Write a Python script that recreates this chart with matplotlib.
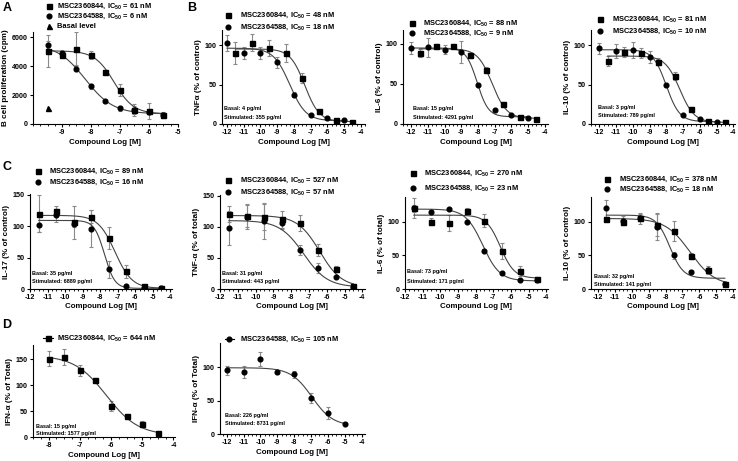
import numpy as np
import matplotlib
matplotlib.use("Agg")
import matplotlib.pyplot as plt
from matplotlib.lines import Line2D
from matplotlib.ticker import FixedLocator, MultipleLocator

plt.rcParams["font.family"] = ["Liberation Sans", "DejaVu Sans"]
plt.rcParams["font.weight"] = "bold"
plt.rcParams["axes.labelweight"] = "bold"
plt.rcParams["mathtext.fontset"] = "custom"
plt.rcParams["mathtext.rm"] = "Liberation Sans:bold"
plt.rcParams["mathtext.bf"] = "Liberation Sans:bold"
plt.rcParams["mathtext.it"] = "Liberation Sans:bold:italic"

# ---------------- data ----------------
# Panel A: B cell proliferation (cpm)
a_x = [-9.5, -9.0, -8.5, -8.0, -7.5, -7.0, -6.5, -6.0, -5.5]
a_sq = [5050, 4750, 5200, 4780, 3580, 2350, 950, 920, 620]
a_sq_err = [1100, 150, 1150, 280, 150, 400, 400, 550, 200]
a_ci = [5480, 4900, 3820, 2590, 1580, 1070, 960, 860, 600]
a_ci_err = [280, 150, 150, 200, 100, 200, 250, 200, 150]
a_basal_x = [-9.5]
a_basal = [1100]
a_fit_sq = (5050, 700, -7.2, 1.3)   # top, bottom, logIC50, slope
a_fit_ci = (5500, 700, -8.2, 0.9)

# Panel B: TNFa (% of control)
b1_x_ci = [-12, -11, -10, -9, -8, -7, -6, -5]
b1_x_sq = [-11.5, -10.5, -9.5, -8.5, -7.5, -6.5, -5.5, -4.5]
b1_ci = [103, 90, 90, 78, 37, 12, 7, 5]
b1_ci_err = [10, 8, 8, 7, 3, 1, 1, 1]
b1_sq = [90, 103, 96, 90, 58, 16, 5, 3]
b1_sq_err = [14, 11, 10, 11, 6, 2, 1, 1]
b1_fit_sq = (95, 3, -7.35, 1.0)
b1_fit_ci = (96, 4, -8.25, 0.9)

# IL-6 (% of control)
b2_ci = [95, 96, 93, 90, 49, 18, 11, 8]
b2_ci_err = [7, 12, 6, 14, 2, 1, 1, 1]
b2_sq = [89, 97, 97, 86, 68, 25, 9, 6]
b2_sq_err = [5, 3, 2, 3, 3, 2, 1, 1]
b2_fit_sq = (94, 7, -7.15, 1.0)
b2_fit_ci = (95, 9, -8.05, 1.3)

# IL-10 (% of control)
b3_ci = [96, 92, 94, 85, 49, 12, 6, 3]
b3_ci_err = [7, 9, 10, 8, 2, 1, 1, 1]
b3_sq = [80, 91, 90, 79, 61, 19, 4, 2]
b3_sq_err = [6, 6, 6, 4, 5, 2, 1, 1]
b3_fit_sq = (86, 2, -7.2, 1.0)
b3_fit_ci = (94, 3, -8.0, 1.1)

# Panel C (both compounds at the same concentrations)
c_x = [-11.5, -10.5, -9.5, -8.5, -7.5, -6.5, -5.5, -4.5]
# IL-17 (% of control)
c1_sq = [120, 124, 106, 115, 81, 28, 4, 1]
c1_sq_err = [30, 8, 26, 10, 18, 10, 3, 1]
c1_ci = [102, 117, 104, 96, 31, 5, 2, 1]
c1_ci_err = [12, 10, 6, 30, 14, 1, 1, 1]
c1_fit_sq = (117, 1, -7.15, 0.9)
c1_fit_ci = (109, 1, -7.75, 1.5)

# TNF-a (% of total)
c2_sq = [120, 117, 116, 112, 106, 63, 32, 5]
c2_sq_err = [13, 18, 22, 14, 13, 10, 5, 3]
c2_ci = [98, 116, 109, 106, 62, 33, 19, 4]
c2_ci_err = [27, 20, 28, 10, 8, 8, 2, 2]
c2_fit_sq = (118, 3, -6.4, 0.7)
c2_fit_ci = (110, 3, -7.3, 0.65)

# IL-6 (% of total)
c3_sq = [120, 100, 98, 116, 102, 57, 27, 15]
c3_sq_err = [15, 5, 12, 5, 9, 12, 7, 3]
c3_ci = [120, 115, 119, 100, 57, 24, 13, 13]
c3_ci_err = [5, 2, 2, 2, 2, 1, 1, 1]
c3_fit_sq = (110, 16, -6.6, 1.1)
c3_fit_ci = (119, 12, -7.6, 0.9)

# IL-10 (% of control)
c4_sq = [104, 100, 106, 95, 87, 49, 28, 8]
c4_sq_err = [3, 5, 5, 16, 15, 4, 6, 3]
c4_ci = [120, 102, 105, 93, 50, 26, 28, 8]
c4_ci_err = [13, 6, 8, 20, 5, 2, 2, 2]
c4_fit_sq = (105, 5, -6.55, 0.6)
c4_fit_ci = (110, 16, -7.75, 1.1)

# Panel D: IFN-a (% of Total)
d1_x = [-8, -7.5, -7, -6.5, -6, -5.5, -5, -4.5]
d1_sq = [151, 154, 128, 110, 60, 40, 25, 7]
d1_sq_err = [14, 16, 10, 3, 10, 2, 5, 2]
d1_fit = (157, 3, -6.15, 0.85)

d2_x = [-12, -11, -10, -9, -8, -7, -6, -5]
d2_ci = [95, 93, 112, 92, 89, 54, 32, 15]
d2_ci_err = [7, 9, 11, 2, 5, 7, 9, 2]
d2_fit = (99, 12, -6.95, 0.7)

# ---------------- drawing ----------------
W, H = 738, 461
fig = plt.figure(figsize=(W / 100, H / 100), dpi=100)

ECOL = "#8a8a8a"
FCOL = "#444444"
FS_TICK = 5.1
FS_XL = 5.7
FS_YL = 5.9
FS_LEG = 5.4
FS_NOTE = 4.0


def fx(x):
    return x / W


def fy(y):
    return 1 - y / H


def box(l, r, t, b):
    return [l / W, 1 - b / H, (r - l) / W, (b - t) / H]


def fit_curve(ax, x, p):
    top, bottom, logic, slope = p
    xs = np.linspace(min(x), max(x), 300)
    ys = bottom + (top - bottom) / (1 + 10 ** ((xs - logic) * slope))
    ax.plot(xs, ys, color=FCOL, lw=0.8, zorder=2)


def points(ax, x, y, err, marker, ms):
    ax.errorbar(x, y, yerr=err, fmt="none", ecolor=ECOL, elinewidth=0.8,
                capsize=1.6, capthick=0.8, zorder=1)
    ax.plot(x, y, linestyle="none", marker=marker, ms=ms, color="black",
            mec="black", zorder=3)


def make_axes(rect, xlim, ylim, xticks, yticks, ylabel, labelpad=2):
    ax = fig.add_axes(rect)
    ax.set_xlim(*xlim)
    ax.set_ylim(*ylim)
    for s in ("top", "right"):
        ax.spines[s].set_visible(False)
    for s in ("left", "bottom"):
        ax.spines[s].set_linewidth(0.8)
    ax.xaxis.set_major_locator(FixedLocator(xticks))
    ax.xaxis.set_minor_locator(MultipleLocator(0.25))
    ax.yaxis.set_major_locator(FixedLocator(yticks))
    ax.tick_params(axis="both", which="major", length=2.4, width=0.8,
                   labelsize=FS_TICK, pad=1.5)
    ax.tick_params(axis="x", which="minor", length=1.2, width=0.6)
    ax.set_xticklabels([str(int(t)) for t in xticks])
    ax.set_yticklabels([str(int(t)) for t in yticks])
    ax.set_xlabel("Compound Log [M]", fontsize=FS_XL, labelpad=1.5)
    ax.set_ylabel(ylabel, fontsize=FS_YL, labelpad=labelpad)
    return ax


def legend_entry(xm, xt, y, marker, text, line=None, ms=3.4):
    if line is not None:
        fig.add_artist(Line2D([fx(line[0]), fx(line[1])], [fy(y), fy(y)],
                              transform=fig.transFigure, color="black", lw=0.8))
    fig.add_artist(Line2D([fx(xm)], [fy(y)], transform=fig.transFigure,
                          marker=marker, ms=ms, color="black", linestyle="none"))
    fig.text(fx(xt), fy(y), text, fontsize=FS_LEG, va="center", ha="left")


def note(x, y1, y2, basal, stim):
    fig.text(fx(x), fy(y1), f"Basal: {basal} pg/ml", fontsize=FS_NOTE,
             va="center", ha="left")
    fig.text(fx(x), fy(y2), f"Stimulated: {stim} pg/ml", fontsize=FS_NOTE,
             va="center", ha="left")


SQ = "s"
CI = "o"
MS_SQ = 3.6
MS_CI = 3.4
IC = "IC$_{50}$"
ticks12 = [-12, -11, -10, -9, -8, -7, -6, -5, -4]

# ---- Row 1 ----
ax = make_axes(box(33, 178, 32, 124), (-10, -5), (0, 6350),
               [-9, -8, -7, -6, -5], [0, 2000, 4000, 6000],
               "B cell proliferation (cpm)")
fit_curve(ax, a_x, a_fit_sq)
fit_curve(ax, a_x, a_fit_ci)
points(ax, a_x, a_sq, a_sq_err, SQ, MS_SQ)
points(ax, a_x, a_ci, a_ci_err, CI, MS_CI)
ax.plot(a_basal_x, a_basal, linestyle="none", marker="^", ms=3.6, color="black")
legend_entry(49, 57, 6, SQ, f"MSC2360844, {IC} = 61 nM", ms=MS_SQ)
legend_entry(49, 57, 16, CI, f"MSC2364588, {IC} = 6 nM", ms=MS_CI)
legend_entry(49, 57, 26, "^", "Basal level", ms=3.6)

ax = make_axes(box(222, 365, 30, 124), (-12.3, -3.75), (0, 119),
               ticks12, [0, 50, 100], "TNFα (% of control)")
fit_curve(ax, b1_x_sq, b1_fit_sq)
fit_curve(ax, b1_x_ci, b1_fit_ci)
points(ax, b1_x_sq, b1_sq, b1_sq_err, SQ, MS_SQ)
points(ax, b1_x_ci, b1_ci, b1_ci_err, CI, MS_CI)
legend_entry(228, 240, 15, SQ, f"MSC2360844, {IC} = 48 nM", ms=MS_SQ)
legend_entry(228, 240, 27, CI, f"MSC2364588, {IC} = 18 nM", ms=MS_CI)
note(224, 108, 117, 4, 355)

ax = make_axes(box(403, 548, 30, 124), (-12.5, -3.8), (0, 117.5),
               ticks12, [0, 50, 100], "IL-6 (% of control)")
fit_curve(ax, b1_x_sq, b2_fit_sq)
fit_curve(ax, b1_x_ci, b2_fit_ci)
points(ax, b1_x_sq, b2_sq, b2_sq_err, SQ, MS_SQ)
points(ax, b1_x_ci, b2_ci, b2_ci_err, CI, MS_CI)
legend_entry(412, 423, 23, SQ, f"MSC2360844, {IC} = 88 nM", ms=MS_SQ)
legend_entry(412, 423, 33, CI, f"MSC2364588, {IC} = 9 nM", ms=MS_CI)
note(413, 108, 117, 15, 4291)

ax = make_axes(box(591, 735, 30, 124), (-12.5, -3.9), (0, 119),
               ticks12, [0, 50, 100], "IL-10 (% of control)")
fit_curve(ax, b1_x_sq, b3_fit_sq)
fit_curve(ax, b1_x_ci, b3_fit_ci)
points(ax, b1_x_sq, b3_sq, b3_sq_err, SQ, MS_SQ)
points(ax, b1_x_ci, b3_ci, b3_ci_err, CI, MS_CI)
legend_entry(600, 612, 19, SQ, f"MSC2360844, {IC} = 81 nM", ms=MS_SQ)
legend_entry(600, 612, 31, CI, f"MSC2364588, {IC} = 10 nM", ms=MS_CI)
note(598, 107, 115, 3, 789)

# ---- Row 2 ----
ax = make_axes(box(30, 172, 194, 289), (-12, -3.9), (0, 151),
               ticks12, [0, 50, 100, 150], "IL-17 (% of control)")
fit_curve(ax, c_x, c1_fit_sq)
fit_curve(ax, c_x, c1_fit_ci)
points(ax, c_x, c1_sq, c1_sq_err, SQ, MS_SQ)
points(ax, c_x, c1_ci, c1_ci_err, CI, MS_CI)
legend_entry(38, 49, 171, SQ, f"MSC2360844, {IC} = 89 nM", ms=MS_SQ)
legend_entry(38, 49, 182, CI, f"MSC2364588, {IC} = 16 nM", ms=MS_CI)
note(32, 273, 282, 35, 6889)

ax = make_axes(box(220, 365, 195, 289), (-12, -3.85), (0, 151),
               ticks12, [0, 50, 100, 150], "TNF-α (% of total)")
fit_curve(ax, c_x, c2_fit_sq)
fit_curve(ax, c_x, c2_fit_ci)
points(ax, c_x, c2_sq, c2_sq_err, SQ, MS_SQ)
points(ax, c_x, c2_ci, c2_ci_err, CI, MS_CI)
legend_entry(228, 240, 180, SQ, f"MSC2360844, {IC} = 527 nM", ms=MS_SQ)
legend_entry(228, 240, 192, CI, f"MSC2364588, {IC} = 57 nM", ms=MS_CI)
note(222, 273, 282, 31, 443)

ax = make_axes(box(405, 548, 197, 289), (-12, -3.9), (0, 137),
               ticks12, [0, 50, 100], "IL-6 (% of total)")
fit_curve(ax, c_x, c3_fit_sq)
fit_curve(ax, c_x, c3_fit_ci)
points(ax, c_x, c3_sq, c3_sq_err, SQ, MS_SQ)
points(ax, c_x, c3_ci, c3_ci_err, CI, MS_CI)
legend_entry(413, 424, 173, SQ, f"MSC2360844, {IC} = 270 nM", ms=MS_SQ)
legend_entry(413, 424, 188, CI, f"MSC2364588, {IC} = 23 nM", ms=MS_CI)
note(407, 272, 281, 73, 171)

ax = make_axes(box(591, 735, 197, 289), (-12.4, -3.9), (0, 137),
               ticks12, [0, 50, 100], "IL-10 (% of control)")
fit_curve(ax, c_x, c4_fit_sq)
fit_curve(ax, c_x, c4_fit_ci)
points(ax, c_x, c4_sq, c4_sq_err, SQ, MS_SQ)
points(ax, c_x, c4_ci, c4_ci_err, CI, MS_CI)
legend_entry(607, 619, 179, SQ, f"MSC2360844, {IC} = 378 nM", ms=MS_SQ)
legend_entry(607, 619, 189, CI, f"MSC2364588, {IC} = 18 nM", ms=MS_CI)
note(594, 276, 284, 32, 141)

# ---- Row 3 ----
ax = make_axes(box(33, 175, 345, 437), (-8.5, -3.95), (0, 177),
               [-8, -7, -6, -5, -4], [0, 50, 100, 150], "IFN-α (% of Total)")
fit_curve(ax, d1_x, d1_fit)
points(ax, d1_x, d1_sq, d1_sq_err, SQ, MS_SQ)
legend_entry(48, 57, 338, SQ, f"MSC2360844, {IC} = 644 nM", line=(43, 53), ms=MS_SQ)
note(36, 426, 433, 15, 1577)

ax = make_axes(box(220, 365, 343, 434), (-12.4, -3.8), (0, 136),
               ticks12, [0, 50, 100], "IFN-α (% of Total)")
fit_curve(ax, d2_x, d2_fit)
points(ax, d2_x, d2_ci, d2_ci_err, CI, MS_CI)
legend_entry(229, 240, 339, CI, f"MSC2364588, {IC} = 105 nM", line=(225, 234), ms=MS_CI)
note(225, 415, 423, 226, 8731)

# panel letters
for letter, x, y in [("A", 7, 8), ("B", 192, 8), ("C", 7, 167), ("D", 7, 325)]:
    fig.text(fx(x), fy(y), letter, fontsize=9, fontweight="bold",
             ha="center", va="center")

fig.savefig("out.png", dpi=100)
